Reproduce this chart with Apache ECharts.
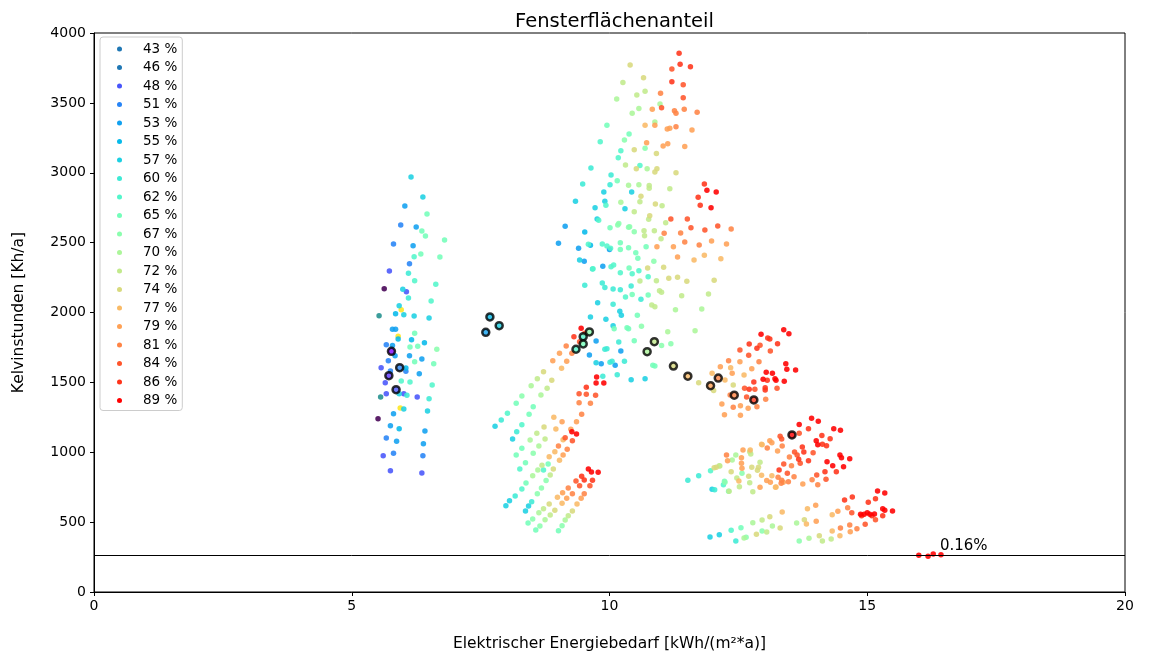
<!DOCTYPE html>
<html>
<head>
<meta charset="utf-8">
<script src="https://cdn.jsdelivr.net/npm/echarts@6/dist/echarts.min.js"></script>
<style>
  html, body { margin: 0; padding: 0; background: #fff; }
  #chart { width: 1149px; height: 655px; }
</style>
</head>
<body>
<div id="chart"></div>
<script>
// Window-area shares (legend entries)
const shares = [43, 46, 48, 51, 53, 55, 57, 60, 62, 65, 67, 70, 72, 74, 77, 79, 81, 84, 86, 89];

// [electric demand kWh/(m²a), kelvin hours Kh/a] per window share
const p43 = [[5.63,2170],[5.51,1240]];
const p46 = [[5.53,1977],[5.56,1395]];
const p46b = [[5.96,2020],[5.90,1830],[5.94,1317]];
const p48 = [[5.73,2297],[6.06,2149],[5.57,1605],[5.65,1498],[5.67,1419],[6.01,1419],[6.27,1395],[5.61,975],[5.75,868],[6.36,852]];
const p51 = [[5.95,2626],[5.81,2490],[6.12,2349],[5.67,1770],[5.71,1655],[5.75,1581],[6.05,1579],[5.67,1102],[5.81,993],[6.38,975]];
const p53 = [[6.03,2762],[6.25,2612],[6.19,2478],[5.79,1880],[5.85,1880],[5.79,1763],[5.84,1691],[6.12,1691],[6.36,1667],[6.31,1562],[5.81,1276],[5.75,1190],[6.42,1152],[5.87,1078],[6.39,1061],
  [9.01,2495],[9.14,2617],[9.40,2459],[9.51,2366],[10.00,2450],[9.87,2331],[9.74,1796],[9.61,1696],[10.22,1725],[9.84,1634],[10.11,1622]];
const p55 = [[5.85,1991],[6.16,1805],[6.41,1784],[5.90,1810],[5.92,1169],[6.05,1603],[9.52,2576],[9.63,2481]];
const p57 = [[6.15,2970],[6.38,2827],[5.99,2166],[5.92,2049],[6.01,1984],[6.21,1975],[6.50,1961],[5.92,1419],[6.01,1310],[6.47,1295],
  [9.89,2862],[9.34,2796],[9.91,2796],[9.72,2750],[10.30,2743],[10.43,2862],[9.76,2669],[9.42,2376],[9.77,2070],[10.20,2009],[10.23,1980],[9.63,1968],[9.93,1951],[10.07,1906],[10.42,1519],[10.69,1526],[9.74,1641],
  [7.78,1186],[8.12,1095],[8.06,653],[7.99,618],[8.43,615],[8.37,580],[11.99,735],[11.95,394],[12.13,410]];
const p60 = [[6.10,2281],[6.10,2104],[6.50,1383],[6.07,1408],
  [9.48,2920],[9.64,3034],[10.03,2984],[10.01,2915],[9.67,2311],[9.86,2211],[9.91,2178],[10.07,2168],[10.21,2163],[10.42,2190],[10.61,2095],[9.52,2195],[10.07,2059],[10.18,1789],[9.91,1737],[9.95,1741],[10.29,1651],[10.01,1644],[10.05,1651],[10.15,1555],[9.87,1544],
  [7.90,1231],[8.20,1147],[8.17,687],[8.49,646],[11.52,799],[11.73,832],[12.45,365],[12.04,732]];
const p62 = [[6.21,2399],[6.22,2228],[6.63,2202],[6.54,2082],[5.96,1510],[6.13,1503],[6.56,1481],
  [9.82,3222],[10.22,3158],[10.17,3108],[10.59,3051],[9.86,2490],[9.95,2476],[10.02,2459],[10.03,2328],[10.08,2340],[10.21,2285],[10.44,2278],[10.57,2299],[10.75,2256],[10.31,2111],[9.79,2660],[9.93,2767],[9.59,2488],[9.68,2313],
  [8.02,1279],[8.30,1197],[8.26,880],[8.72,873],[8.30,737],[11.96,868],[12.21,768],[12.36,441]];
const p65 = [[6.46,2705],[6.36,2583],[6.43,2548],[6.80,2519],[6.34,2419],[6.71,2397],[6.22,1851],[6.13,1753],[6.28,1758],[6.22,1648],[6.59,1634],
  [9.95,3340],[10.38,3277],[10.15,2943],[10.01,2607],[10.21,2500],[10.37,2464],[10.21,2450],[10.51,2428],[10.55,2388],[10.71,2471],[10.38,2318],[10.44,2128],[10.75,2125],[10.54,1980],[10.09,1884],[10.34,1891],[10.37,1884],[10.48,1798],[10.84,1622],[10.88,1617],
  [8.19,1350],[8.52,1326],[8.44,1272],[8.30,1028],[8.19,980],[8.37,925],[8.81,916],[8.38,780],[8.42,494],[8.57,444],[9.01,439],[12.23,792],[12.31,721],[12.55,460]];
const p67 = [[6.65,1737],
  [10.29,3235],[10.69,3175],[10.18,2636],[10.16,2626],[10.37,2610],[10.39,2614],[10.48,2578],[10.86,2366],[10.62,1901],[11.01,1763],[11.19,1777],
  [8.30,1403],[8.52,993],[8.77,797],[8.68,744],[8.60,703],[8.51,522],[8.65,472],[9.08,474],
  [12.57,849],[12.24,785],[12.96,437],[12.65,391],[13.68,365]];
const p70 = [[10.14,3528],[10.57,3459],[10.44,3426],[10.98,3492],[10.88,3363],[10.73,3029],[10.22,2789],[10.37,2910],[10.57,2915],[11.28,2020],[11.79,2025],[11.66,1870],[11.13,1863],
  [8.48,1476],[8.67,1410],[8.46,1088],[8.63,1045],[8.61,873],[8.51,832],[8.63,567],[8.75,517],[9.14,515],
  [12.38,945],[12.45,980],[13.63,494],[13.87,384],[12.78,496],[13.16,472],[12.61,386]];
const p72 = [[10.26,3645],[10.69,3583],[10.53,3557],[10.31,3056],[10.76,2667],[11.09,2643],[11.02,2764],[10.59,2793],[10.48,2721],[10.77,2908],[10.77,2889],[11.17,2886],[10.67,2585],[10.87,2585],[10.68,2550],[11.00,2528],[10.59,2226],[10.91,2228],[10.97,2156],[11.01,2145],[11.40,2120],[11.92,2132],[10.82,2054],[10.88,2042],
  [8.60,1526],[8.79,1458],[8.59,1136],[8.75,1095],[8.69,907],[8.85,837],[8.72,596],[8.85,551],[9.20,546],
  [12.72,1004],[12.74,988],[12.14,902],[12.13,904],[12.92,928],[12.47,816],[12.72,782],[12.52,753],[12.78,718],[12.32,721],[12.96,515],[13.05,429],[14.30,379],[14.13,365]];
const p74 = [[10.40,3771],[10.66,3680],[10.48,3165],[10.91,3137],[10.52,3029],[10.92,3029],[10.88,3005],[11.29,3000],[10.61,2832],[10.89,2777],[10.78,2693],[10.74,2318],[11.05,2323],[11.15,2245],[11.32,2252],[11.50,2223],[12.03,2231],
  [8.72,1576],[8.88,1515],[8.73,1181],[8.91,880],[8.83,630],[8.94,585],[9.28,580],
  [11.73,1498],[12.40,1481],[12.02,1441],
  [12.07,892],[12.03,889],[12.36,861],[12.89,892],[12.87,871],[12.76,892],[12.70,828],[13.11,539],[12.85,413],[13.31,458],[13.78,517],[14.07,403]];
const p77 = [[10.69,3340],[11.64,2376],[11.84,2409],[12.16,2385],
  [9.07,1601],[8.92,1250],[8.96,1166],[9.10,1090],[8.94,1004],[8.83,968],[9.03,942],[8.99,678],[9.08,635],[9.37,630],
  [12.35,1605],[11.99,1565],[12.61,1553],[12.24,1517],
  [12.96,1054],[12.73,1016],[12.95,1057],[12.95,835],[13.15,832],[13.23,751],[13.22,749],[13.84,596],[13.82,487],[14.32,437],[14.47,403],[14.32,553],[13.35,572],[12.51,794]];
const p79 = [[10.83,3454],[10.88,3340],[11.12,3313],[11.17,3318],[11.60,3306],[10.72,3215],[11.04,3192],[11.13,3208],[11.46,3187],[11.98,2512],[12.27,2490],[10.92,2471],[11.24,2471],[11.32,2397],
  [9.17,1651],[8.90,1655],[9.03,1708],[9.08,1219],[9.36,1219],[9.25,1164],[9.10,980],[9.09,711],[9.17,671],[9.45,671],
  [12.53,1648],[12.15,1612],[12.76,1598],[12.38,1565],[12.18,1345],[12.54,1333],[12.69,1314],[12.23,1269],[12.54,1265],
  [13.11,1083],[13.15,1068],[12.59,1016],[13.26,1009],[12.56,961],[12.56,921],[12.29,940],[12.57,885],[13.05,797],[12.92,749],[13.12,785],[13.37,785],[13.75,773],[14.00,620],[14.43,577],[14.01,506],[14.67,432]];
const p81 = [[10.99,3569],[11.26,3444],[11.29,3426],[11.45,3454],[11.70,3433],[11.29,3330],[12.36,2598],[11.06,2567],[11.38,2569],[11.46,2505],[11.74,2483],
  [9.16,1760],[9.27,1708],[9.46,1272],[9.41,1355],[9.63,1350],[9.01,1045],[9.18,1021],[9.20,744],[9.28,703],[9.51,703],
  [12.31,1655],[12.90,1648],[12.34,1410],[12.86,1326],[13.03,1379],[12.40,1322],
  [13.35,1045],[13.06,1030],[13.49,966],[13.53,904],[13.58,825],[13.27,821],[13.93,804],[14.04,768],[13.34,799],[13.33,778],[13.47,789],[12.27,980],[14.62,603],[14.80,453],[14.66,480],[14.48,458]];
const p84 = [[11.43,3537],[11.01,3466],[11.21,3743],[11.43,3630],[11.19,2669],[11.51,2669],[11.58,2607],[11.85,2590],[12.10,2619],
  [9.52,1851],[9.42,1791],[9.41,1419],[9.55,1415],[9.73,1408],[9.14,1104],[9.28,1083],[9.35,794],[9.42,761],[9.62,761],
  [12.92,1765],[12.53,1732],[13.12,1725],[12.70,1694],[12.62,1458],[12.82,1450],[13.25,1458],[12.66,1395],
  [13.68,1136],[13.31,1114],[13.34,1095],[13.59,1002],[13.64,980],[13.95,997],[13.70,921],[14.02,837],[14.20,807],[13.45,849],[13.38,916],[14.70,567],[15.16,517],[14.96,484]];
const p86 = [[11.35,3855],[11.37,3776],[11.57,3759],[11.21,3652],[11.84,2920],[11.72,2824],[11.76,2767],
  [9.31,1827],[9.55,1465],[9.46,828],[9.51,801],[9.67,799],
  [13.07,1818],[13.11,1810],[13.26,1777],[12.71,1775],[12.86,1744],[12.80,1503],[13.06,1515],[12.71,1450],[13.02,1462],[13.02,1446],
  [13.86,1169],[14.12,1119],[14.28,1097],[14.13,1057],[14.21,1047],[13.74,1038],[13.77,1002],[13.67,950],[13.86,940],[14.18,861],[14.40,861],[13.29,873],
  [14.71,680],[14.56,658],[15.02,642],[15.16,668],[14.89,546],[15.09,546],[15.30,546]];
const p89 = [[11.89,2875],[12.07,2862],[11.97,2750],
  [9.45,1887],[9.75,1539],[9.74,1496],[9.89,1496],[9.27,1147],[9.36,1131],[9.59,880],[9.65,859],[9.78,856],
  [13.38,1877],[13.48,1848],[12.94,1844],[13.42,1634],[13.44,1594],[13.61,1589],[13.04,1572],[13.16,1565],[12.98,1522],[13.21,1526],[13.23,1515],[13.39,1508],
  [13.92,1243],[14.05,1222],[13.68,1198],[14.35,1169],[14.48,1157],[14.01,1083],[14.04,1054],[14.22,932],[14.47,980],[14.50,961],[14.66,954],[14.33,904],[14.54,897],
  [15.20,723],[15.34,708],[14.87,556],[14.94,556],[15.00,567],[15.05,556],[15.14,558],[15.30,596],[15.34,585],[15.49,580],
  [16.00,263],[16.18,255],[16.28,272],[16.43,267]];

const groups = [p43, p46, p48, p51, p53, p55, p57, p60, p62, p65, p67, p70, p72, p74, p77, p79, p81, p84, p86, p89];

// Selected variants per group: [x, y, window share]
const selected = [[5.77,1722,43],[5.93,1605,51],[5.72,1548,46],[5.86,1448,48],
  [7.68,1968,55],[7.86,1906,57],[7.60,1858,53],
  [9.49,1827,62],[9.61,1861,67],[9.49,1775,65],[9.35,1737,62],
  [10.87,1791,72],[10.73,1720,70],[11.24,1617,74],[11.52,1544,77],[11.96,1476,79],[12.11,1531,81],[12.42,1408,81],[12.80,1374,86],[13.54,1124,89]];

// Reference level and its note
const refLevel = 265;
const refNote = { x: 16.41, text: '0.16%' };

// matplotlib-style "rainbow" colormap over the share range
function rainbow(p) {
  const t = (p - shares[0]) / (shares[shares.length - 1] - shares[0]);
  const r = Math.min(1, Math.abs(2 * t - 0.5));
  const g = Math.sin(Math.PI * t);
  const b = Math.cos(Math.PI * t / 2);
  return 'rgb(' + [r, g, b].map(v => Math.round(255 * Math.max(0, v))).join(',') + ')';
}

const FONT = 'DejaVu Sans';
const legendBlue = '#1f77b4';
const pointColors = shares.map(rainbow);
pointColors[0] = '#440154';
pointColors[1] = '#21908d';

const series = groups.map((pts, i) => ({
  name: shares[i] + ' %',
  type: 'scatter',
  data: pts,
  symbolSize: 5.5,
  itemStyle: { color: pointColors[i], opacity: 0.88 },
  z: 2
}));
series.splice(2, 0, {
  name: '46 %', type: 'scatter', data: p46b, symbolSize: 5.5,
  itemStyle: { color: '#fde725', opacity: 0.9 }, z: 2
});
series.push({
  name: 'selected', type: 'scatter',
  data: selected.map(s => ({ value: [s[0], s[1]], itemStyle: { color: rainbow(s[2]) } })),
  symbolSize: 7,
  itemStyle: { borderColor: '#000', borderWidth: 2.5 },
  z: 5,
  markLine: {
    silent: true, symbol: 'none', animation: false,
    lineStyle: { color: '#000', width: 1, type: 'solid' },
    label: { show: false },
    data: [{ yAxis: refLevel }]
  }
});

const chart = echarts.init(document.getElementById('chart'), null, { renderer: 'canvas' });
chart.setOption({
  animation: false,
  backgroundColor: '#fff',
  title: {
    text: 'Fensterflächenanteil',
    left: 609.5, textAlign: 'center', top: 7,
    textStyle: { fontFamily: FONT, fontSize: 19.5, fontWeight: 'normal', color: '#000' }
  },
  grid: {
    left: 94, top: 33, right: 24, bottom: 63,
    outerBoundsMode: 'none', containLabel: false,
    show: true, borderColor: '#000', borderWidth: 1, backgroundColor: 'transparent'
  },
  legend: {
    orient: 'vertical', left: 100, top: 37,
    padding: [5, 5, 3, 17],
    itemWidth: 5, itemHeight: 5, itemGap: 4.5,
    icon: 'circle',
    borderColor: '#cccccc', borderWidth: 1, borderRadius: 3,
    backgroundColor: 'rgba(255,255,255,0.8)',
    textStyle: { fontFamily: FONT, fontSize: 13.5, color: '#000', lineHeight: 14, padding: [0, 0, 0, 16] },
    data: shares.map((s, i) => ({
      name: s + ' %',
      itemStyle: { color: i < 2 ? legendBlue : pointColors[i], opacity: 1 }
    }))
  },
  xAxis: {
    type: 'value', min: 0, max: 20, interval: 5,
    name: 'Elektrischer Energiebedarf [kWh/(m²*a)]',
    nameLocation: 'middle', nameGap: 44,
    nameTextStyle: { fontFamily: FONT, fontSize: 15.5, color: '#000' },
    axisLine: { show: true, lineStyle: { color: '#000', width: 1 } },
    axisTick: { show: true, inside: false, length: 4, lineStyle: { color: '#000' } },
    axisLabel: { fontFamily: FONT, fontSize: 14, color: '#000', margin: 7 },
    splitLine: { show: false }
  },
  yAxis: {
    type: 'value', min: 0, max: 4000, interval: 500,
    name: 'Kelvinstunden [Kh/a]',
    nameLocation: 'middle', nameGap: 67, nameRotate: 90,
    nameTextStyle: { fontFamily: FONT, fontSize: 15.5, color: '#000' },
    axisLine: { show: true, lineStyle: { color: '#000', width: 1 } },
    axisTick: { show: true, inside: false, length: 4, lineStyle: { color: '#000' } },
    axisLabel: { fontFamily: FONT, fontSize: 14, color: '#000', margin: 8, formatter: v => String(v) },
    splitLine: { show: false }
  },
  series: series
});

// Note beside the reference line
const notePos = chart.convertToPixel({ gridIndex: 0 }, [refNote.x, refLevel]);
chart.setOption({
  graphic: [{
    type: 'text', x: notePos[0], y: notePos[1] - 1, z: 10,
    style: { text: refNote.text, fontFamily: FONT, fontSize: 15, fill: '#000', textVerticalAlign: 'bottom', verticalAlign: 'bottom' }
  }]
});
</script>
</body>
</html>
